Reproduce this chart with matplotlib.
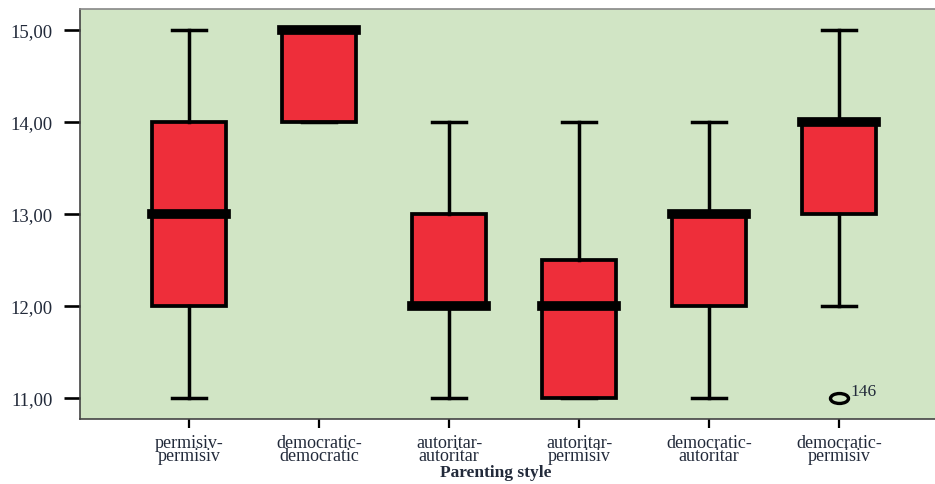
import numpy as np
import matplotlib.pyplot as plt
from matplotlib.path import Path

# Parenting style categories and box statistics
categories = ["permisiv-\npermisiv", "democratic-\ndemocratic", "autoritar-\nautoritar",
              "autoritar-\npermisiv", "democratic-\nautoritar", "democratic-\npermisiv"]
whisker_low = [11, 14, 11, 11, 11, 12]
q1 = [12, 14, 12, 11, 12, 13]
medians = [13, 15, 12, 12, 13, 14]
q3 = [14, 15, 13, 12.5, 13, 14]
whisker_high = [15, 15, 14, 14, 14, 15]
outliers = [[], [], [], [], [], [11]]
outlier_ids = [[], [], [], [], [], ["146"]]

plt.rcParams['font.family'] = ['Liberation Serif', 'DejaVu Serif']

stats = []
for i in range(len(categories)):
    stats.append({
        "whislo": whisker_low[i], "q1": q1[i], "med": medians[i],
        "q3": q3[i], "whishi": whisker_high[i], "fliers": []
    })

fig = plt.figure(figsize=(9.35, 4.85), dpi=100)
ax = fig.add_axes([80 / 935, 1 - 420 / 485, 855 / 935, 410 / 485])
ax.set_facecolor('#d1e5c5')

positions = np.arange(1, len(categories) + 1)
ax.bxp(stats, positions=positions, widths=0.57, patch_artist=True, showfliers=False,
       capwidths=0.254,
       boxprops=dict(facecolor='#ee2e3a', edgecolor='black', linewidth=2.7),
       whiskerprops=dict(color='black', linewidth=2.5),
       capprops=dict(color='black', linewidth=2.5),
       medianprops=dict(color='black', linewidth=7, solid_capstyle='projecting', zorder=5))

# outliers drawn as open ellipses with their case number
ell = Path.unit_circle()
ell = Path(ell.vertices * np.array([1.0, 0.55]), ell.codes)
for i, vals in enumerate(outliers):
    for v, lab in zip(vals, outlier_ids[i]):
        ax.plot(positions[i], v, marker=ell, markersize=13, markerfacecolor='none',
                markeredgecolor='black', markeredgewidth=2.4, linestyle='none', zorder=6)
        ax.annotate(lab, (positions[i], v), xytext=(11, 7), textcoords='offset pixels',
                    fontsize=12.5, color='#222a3a', ha='left', va='center')

ax.set_xlim(1 - 109 / 130, 6 + 96 / 130)
ax.set_ylim(11 - 21 / 92, 15 + 21 / 92)

yticks = [11, 12, 13, 14, 15]
ax.set_yticks(yticks)
ax.set_yticklabels([f"{t:.2f}".replace('.', ',') for t in yticks], fontsize=13.5, color='#222a3a')
ax.set_xticks(positions)
ax.set_xticklabels(categories, fontsize=13, color='#222a3a')
for lab in ax.get_xticklabels():
    lab.set_linespacing(0.72)

ax.tick_params(axis='y', length=11.5, width=1.9, pad=8, color='black')
ax.tick_params(axis='x', length=6.5, width=1.6, pad=4, color='black')

for side in ['left', 'bottom']:
    ax.spines[side].set_color('#444444')
    ax.spines[side].set_linewidth(1.2)
ax.spines['top'].set_color('#888888')
ax.spines['top'].set_linewidth(1.2)
ax.spines['right'].set_visible(False)

fig.text(496 / 935, 1 - 473 / 485, "Parenting style", ha='center', va='center',
         fontsize=12.5, fontweight='bold', color='#222a3a')

fig.savefig('out.png', dpi=100, facecolor='white')
